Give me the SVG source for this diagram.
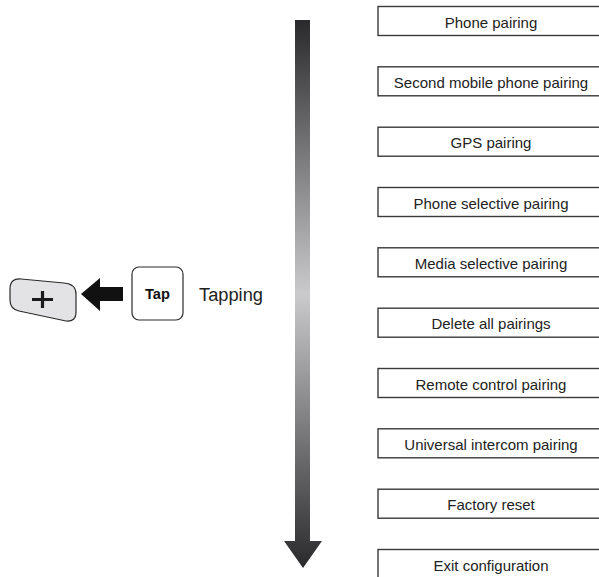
<svg xmlns="http://www.w3.org/2000/svg" width="599" height="577" viewBox="0 0 599 577">
<style>
.box{fill:#fff;stroke:#3a3a3a;stroke-width:1.4}
.bt{font-family:"Liberation Sans",Arial,sans-serif;font-size:15px;fill:#222;text-anchor:middle}
</style>
<defs>
<linearGradient id="g" x1="0" y1="20" x2="0" y2="568" gradientUnits="userSpaceOnUse">
<stop offset="0" stop-color="#2a2a2c"/>
<stop offset="0.5" stop-color="#cacacc"/>
<stop offset="1" stop-color="#2a2a2c"/>
</linearGradient>
</defs>
<rect width="599" height="577" fill="#fff"/>
<g id="flow-arrow">
<path d="M295 20 H310 V541 H322 L303 568 L284 541 H295 Z" fill="url(#g)"/>
</g>
<g id="plus-button">
<path d="M21 279 L64 283 Q76 284 76 294 L76 312 Q76 322 66 321 L19 311 Q10 309 10 300 L10 289 Q10 278 21 279 Z" fill="#e3e3e5" stroke="#2a2a2a" stroke-width="1.2"/>
<path d="M32 299.5 H53 M42.5 291 V308" stroke="#1a1a1a" stroke-width="3.2" fill="none"/>
</g>
<g id="connectors">
<polygon points="81,294 100,278 100,287 123,287 123,301 100,301 100,311" fill="#111"/>
</g>
<g id="tap-key">
<rect x="132" y="267" width="51" height="53" rx="7" fill="#fff" stroke="#2a2a2a" stroke-width="1.2"/>
<text x="157.5" y="299" font-family="'Liberation Sans',Arial,sans-serif" font-size="15" font-weight="bold" fill="#111" text-anchor="middle" textLength="25" lengthAdjust="spacingAndGlyphs">Tap</text>
</g>
<g id="tapping-label">
<text x="199" y="301" font-family="'Liberation Sans',Arial,sans-serif" font-size="18" fill="#222" textLength="64" lengthAdjust="spacingAndGlyphs">Tapping</text>
</g>
<g id="n1"><rect class="box" x="378" y="6.5" width="230" height="29"/><text class="bt" x="491" y="27.5">Phone pairing</text></g>
<g id="n2"><rect class="box" x="378" y="66.8" width="230" height="29"/><text class="bt" x="491" y="87.8">Second mobile phone pairing</text></g>
<g id="n3"><rect class="box" x="378" y="127.2" width="230" height="29"/><text class="bt" x="491" y="148.2">GPS pairing</text></g>
<g id="n4"><rect class="box" x="378" y="187.5" width="230" height="29"/><text class="bt" x="491" y="208.5">Phone selective pairing</text></g>
<g id="n5"><rect class="box" x="378" y="247.8" width="230" height="29"/><text class="bt" x="491" y="268.8">Media selective pairing</text></g>
<g id="n6"><rect class="box" x="378" y="308.2" width="230" height="29"/><text class="bt" x="491" y="329.2">Delete all pairings</text></g>
<g id="n7"><rect class="box" x="378" y="368.5" width="230" height="29"/><text class="bt" x="491" y="389.5">Remote control pairing</text></g>
<g id="n8"><rect class="box" x="378" y="428.8" width="230" height="29"/><text class="bt" x="491" y="449.8">Universal intercom pairing</text></g>
<g id="n9"><rect class="box" x="378" y="489.2" width="230" height="29"/><text class="bt" x="491" y="510.2">Factory reset</text></g>
<g id="n10"><rect class="box" x="378" y="549.5" width="230" height="29"/><text class="bt" x="491" y="570.5">Exit configuration</text></g>
</svg>
